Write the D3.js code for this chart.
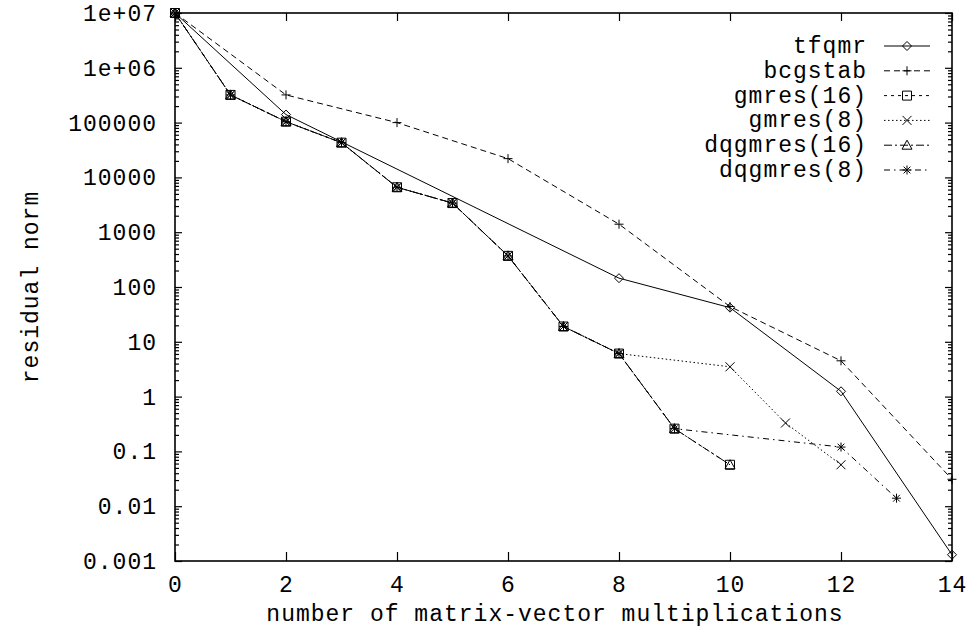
<!DOCTYPE html>
<html>
<head>
<meta charset="utf-8">
<script src="https://cdn.jsdelivr.net/npm/d3@7"></script>
<style>
  html, body { margin: 0; padding: 0; background: #fff; }
  svg { display: block; }
  text { font-family: "Liberation Mono", "DejaVu Sans Mono", monospace; font-size: 23px; letter-spacing: 1px; fill: #000; }
</style>
</head>
<body>
<svg id="chart" width="971" height="632"></svg>
<script>
// Residual norm history of several Krylov solvers
const xTicks = [0, 2, 4, 6, 8, 10, 12, 14];
const yTicks = [1e7, 1e6, 1e5, 1e4, 1e3, 100, 10, 1, 0.1, 0.01, 0.001];
const yTickLabels = ["1e+07", "1e+06", "100000", "10000", "1000", "100", "10", "1", "0.1", "0.01", "0.001"];

const tfqmrX = [0, 2, 8, 10, 12, 14];
const tfqmrY = [1e7, 1.4e5, 145, 42, 1.25, 0.0013];

const bcgstabX = [0, 2, 4, 6, 8, 10, 12, 14];
const bcgstabY = [1e7, 3.2e5, 1e5, 2.2e4, 1400, 44, 4.5, 0.031];

const gmres16X = [0, 1, 2, 3, 4, 5, 6, 7, 8, 9, 10];
const gmres16Y = [1e7, 3.2e5, 1.04e5, 4.3e4, 6600, 3400, 370, 19, 6.1, 0.26, 0.057];

const gmres8X = [0, 1, 2, 3, 4, 5, 6, 7, 8, 10, 11, 12];
const gmres8Y = [1e7, 3.2e5, 1.04e5, 4.3e4, 6600, 3400, 370, 19, 6.1, 3.5, 0.33, 0.057];

const dqgmres16X = [0, 1, 2, 3, 4, 5, 6, 7, 8, 9, 10];
const dqgmres16Y = [1e7, 3.2e5, 1.04e5, 4.3e4, 6600, 3400, 370, 19, 6.1, 0.26, 0.057];

const dqgmres8X = [0, 1, 2, 3, 4, 5, 6, 7, 8, 9, 12, 13];
const dqgmres8Y = [1e7, 3.2e5, 1.04e5, 4.3e4, 6600, 3400, 370, 19, 6.1, 0.26, 0.12, 0.014];

const seriesNames = ["tfqmr", "bcgstab", "gmres(16)", "gmres(8)", "dqgmres(16)", "dqgmres(8)"];

const series = [
  { name: seriesNames[0], xs: tfqmrX, ys: tfqmrY, dash: null, marker: "diamond" },
  { name: seriesNames[1], xs: bcgstabX, ys: bcgstabY, dash: "6,4", marker: "plus" },
  { name: seriesNames[2], xs: gmres16X, ys: gmres16Y, dash: "3,4", marker: "square" },
  { name: seriesNames[3], xs: gmres8X, ys: gmres8Y, dash: "1.5,2.5", marker: "cross" },
  { name: seriesNames[4], xs: dqgmres16X, ys: dqgmres16Y, dash: "8,3,2,3", marker: "triangle" },
  { name: seriesNames[5], xs: dqgmres8X, ys: dqgmres8Y, dash: "6,4,1.5,4", marker: "star" }
];

const plotLeft = 175, plotRight = 952, plotTop = 13, plotBottom = 561;
const svg = d3.select("#chart");

const x = d3.scaleLinear().domain([0, 14]).range([plotLeft, plotRight]);
const y = d3.scaleLog().domain([0.001, 1e7]).range([plotBottom, plotTop]);

// minor log ticks 2..9 within every decade
const minorTicks = [];
for (let e = -3; e < 7; e++) {
  for (let k = 2; k <= 9; k++) minorTicks.push(k * Math.pow(10, e));
}

function styleAxis(g) {
  g.select(".domain").remove();
  g.selectAll(".tick line").attr("stroke", "#000").attr("stroke-width", 1.2);
}

// bottom axis with labels
svg.append("g")
  .attr("transform", `translate(0,${plotBottom})`)
  .call(d3.axisBottom(x).tickValues(xTicks).tickSizeInner(-9).tickSizeOuter(0).tickPadding(15)
    .tickFormat(d3.format("d")))
  .call(styleAxis)
  .call(g => g.selectAll("text").attr("font-family", null).attr("font-size", null));

// top mirror ticks
svg.append("g")
  .attr("transform", `translate(0,${plotTop})`)
  .call(d3.axisTop(x).tickValues(xTicks).tickSizeInner(-8).tickSizeOuter(0).tickFormat(""))
  .call(styleAxis);

// left axis: major ticks + labels
svg.append("g")
  .attr("transform", `translate(${plotLeft},0)`)
  .call(d3.axisLeft(y).tickValues(yTicks).tickSizeInner(-7).tickSizeOuter(0).tickPadding(18)
    .tickFormat((d, i) => yTickLabels[i]))
  .call(styleAxis)
  .call(g => g.selectAll("text").attr("font-family", null).attr("font-size", null).attr("dy", "0.33em"));

svg.append("g")
  .attr("transform", `translate(${plotLeft},0)`)
  .call(d3.axisLeft(y).tickValues(minorTicks).tickSizeInner(-4).tickSizeOuter(0).tickFormat(""))
  .call(styleAxis);

// right mirror ticks
svg.append("g")
  .attr("transform", `translate(${plotRight},0)`)
  .call(d3.axisRight(y).tickValues(yTicks).tickSizeInner(-7).tickSizeOuter(0).tickFormat(""))
  .call(styleAxis);

svg.append("g")
  .attr("transform", `translate(${plotRight},0)`)
  .call(d3.axisRight(y).tickValues(minorTicks).tickSizeInner(-4).tickSizeOuter(0).tickFormat(""))
  .call(styleAxis);

// frame
svg.append("rect")
  .attr("x", plotLeft).attr("y", plotTop)
  .attr("width", plotRight - plotLeft).attr("height", plotBottom - plotTop)
  .attr("fill", "none").attr("stroke", "#000").attr("stroke-width", 1.6);

// axis titles
svg.append("text")
  .attr("x", 555).attr("y", 613).attr("dy", "0.33em")
  .attr("text-anchor", "middle")
  .text("number of matrix-vector multiplications");

svg.append("text")
  .attr("transform", `translate(30,${(plotTop + plotBottom) / 2}) rotate(-90)`)
  .attr("dy", "0.33em")
  .attr("text-anchor", "middle")
  .text("residual norm");

// point symbols
const R = 4.5;
function markerPath(type) {
  const p = d3.path();
  switch (type) {
    case "diamond":
      p.moveTo(0, -R); p.lineTo(R, 0); p.lineTo(0, R); p.lineTo(-R, 0); p.closePath(); break;
    case "plus":
      p.moveTo(-R, 0); p.lineTo(R, 0); p.moveTo(0, -R); p.lineTo(0, R); break;
    case "square":
      p.rect(-R, -R, 2 * R, 2 * R); break;
    case "cross":
      p.moveTo(-R, -R); p.lineTo(R, R); p.moveTo(-R, R); p.lineTo(R, -R); break;
    case "triangle":
      p.moveTo(0, -R - 0.5); p.lineTo(R + 0.5, R - 0.5); p.lineTo(-R - 0.5, R - 0.5); p.closePath(); break;
    case "star":
      p.moveTo(-R, 0); p.lineTo(R, 0); p.moveTo(0, -R); p.lineTo(0, R);
      p.moveTo(-R * 0.75, -R * 0.75); p.lineTo(R * 0.75, R * 0.75);
      p.moveTo(-R * 0.75, R * 0.75); p.lineTo(R * 0.75, -R * 0.75); break;
  }
  return p.toString();
}

const line = d3.line().x(d => x(d[0])).y(d => y(d[1]));

series.forEach(s => {
  const pts = s.xs.map((v, i) => [v, s.ys[i]]);
  const g = svg.append("g").attr("class", "series");
  g.append("path")
    .attr("d", line(pts))
    .attr("fill", "none")
    .attr("stroke", "#000")
    .attr("stroke-width", 1)
    .attr("stroke-dasharray", s.dash);
  g.selectAll("path.pt")
    .data(pts)
    .join("path")
    .attr("class", "pt")
    .attr("transform", d => `translate(${x(d[0])},${y(d[1])})`)
    .attr("d", markerPath(s.marker))
    .attr("fill", "none")
    .attr("stroke", "#000")
    .attr("stroke-width", 1);
});

// legend
const legendTextX = 867, legendLineX0 = 884, legendLineX1 = 930, legendY0 = 46, legendStep = 24.8;
series.forEach((s, i) => {
  const ly = legendY0 + i * legendStep;
  const g = svg.append("g").attr("class", "legend-row");
  g.append("text")
    .attr("x", legendTextX).attr("y", ly).attr("dy", "0.3em")
    .attr("text-anchor", "end")
    .text(s.name);
  g.append("line")
    .attr("x1", legendLineX0).attr("x2", legendLineX1)
    .attr("y1", ly).attr("y2", ly)
    .attr("stroke", "#000").attr("stroke-width", 1)
    .attr("stroke-dasharray", s.dash);
  g.append("path")
    .attr("transform", `translate(${(legendLineX0 + legendLineX1) / 2},${ly})`)
    .attr("d", markerPath(s.marker))
    .attr("fill", "none").attr("stroke", "#000").attr("stroke-width", 1);
});
</script>
</body>
</html>
